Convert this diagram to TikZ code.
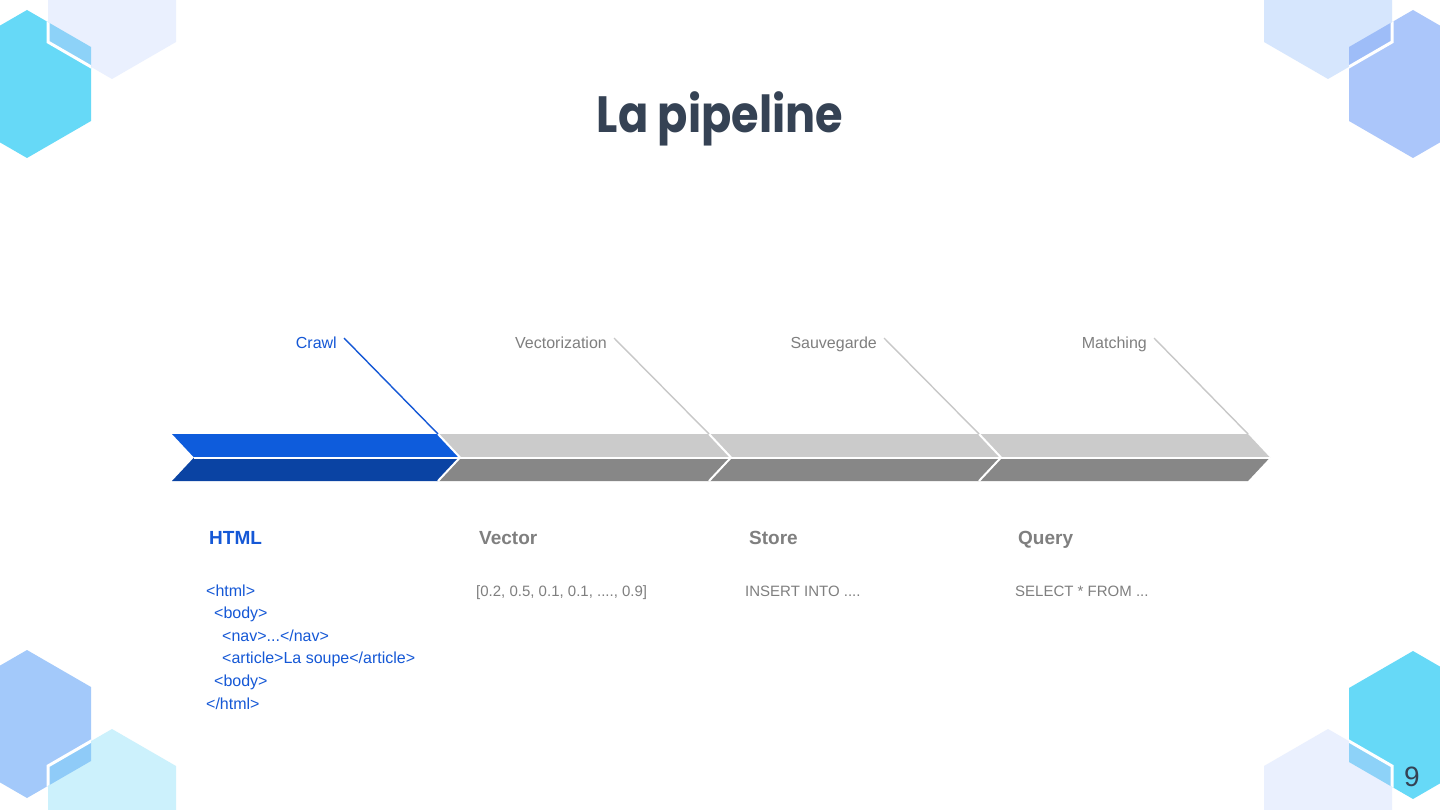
\documentclass[tikz,border=0pt]{standalone}
\usepackage{fontspec}
\setmainfont{Liberation Sans}
\newfontfamily\titlefont{Poppins}
\definecolor{hcyan}{HTML}{66D9F7}
\definecolor{hlav}{HTML}{EAF0FE}
\definecolor{ovcyan}{HTML}{8DD2F8}
\definecolor{hblue}{HTML}{ABC6FA}
\definecolor{hlight}{HTML}{D6E6FD}
\definecolor{ovblue}{HTML}{9EBDF8}
\definecolor{hblueB}{HTML}{A3C9FA}
\definecolor{hcyanL}{HTML}{CCF1FC}
\definecolor{ovblueB}{HTML}{8FCBF8}
\definecolor{titlec}{HTML}{354254}
\definecolor{blueT}{HTML}{0E5CDC}
\definecolor{blueB}{HTML}{0A43A3}
\definecolor{grayT}{HTML}{CBCBCB}
\definecolor{grayB}{HTML}{878787}
\definecolor{txtblue}{HTML}{1558D6}
\definecolor{txtgray}{HTML}{7F7F7F}
\definecolor{leadgray}{HTML}{C8C8C8}
\tikzset{
  hexat/.style 2 args={insert path={(#1,#2-74) -- (#1+64,#2-37) -- (#1+64,#2+37) -- (#1,#2+74) -- (#1-64,#2+37) -- (#1-64,#2-37) -- cycle}},
  gapline/.style={draw=white,line width=3pt},
  lbl/.style={font=\fontsize{16}{19}\selectfont,anchor=base east,inner sep=0pt},
  hdr/.style={font=\fontsize{19}{22}\selectfont\bfseries,anchor=base west,inner sep=0pt},
  code/.style={font=\fontsize{16}{19}\selectfont,anchor=base west,inner sep=0pt},
  codeg/.style={font=\fontsize{15}{18}\selectfont,anchor=base west,inner sep=0pt,text=txtgray},
  leader/.style={line width=1.4pt},
  sep/.style={draw=white,line width=2pt}
}
\begin{document}
\begin{tikzpicture}[x=1pt,y=-1pt]
\useasboundingbox (0,0) rectangle (1440,810);
\fill[white] (0,0) rectangle (1440,810);
% top-left hexagons
\fill[hcyan,hexat={27}{84}];
\fill[hlav,hexat={112}{5}];
\begin{scope}
\clip[hexat={27}{84}];
\fill[ovcyan,hexat={112}{5}];
\draw[gapline,hexat={112}{5}];
\end{scope}
% top-right hexagons
\fill[hblue,hexat={1413}{84}];
\fill[hlight,hexat={1328}{5}];
\begin{scope}
\clip[hexat={1413}{84}];
\fill[ovblue,hexat={1328}{5}];
\draw[gapline,hexat={1328}{5}];
\end{scope}
% bottom-left hexagons
\fill[hblueB,hexat={27}{724}];
\fill[hcyanL,hexat={112}{803}];
\begin{scope}
\clip[hexat={27}{724}];
\fill[ovblueB,hexat={112}{803}];
\draw[gapline,hexat={112}{803}];
\end{scope}
% bottom-right hexagons
\fill[hcyan,hexat={1413}{725}];
\fill[hlav,hexat={1328}{803}];
\begin{scope}
\clip[hexat={1413}{725}];
\fill[ovcyan,hexat={1328}{803}];
\draw[gapline,hexat={1328}{803}];
\end{scope}
% title and page number
\node[font=\titlefont\bfseries\fontsize{51}{58}\selectfont,text=titlec,anchor=base,inner sep=0pt] (title) at (720,133) {\scalebox{0.875}[1]{La pipeline}};
\node[font=\fontsize{28}{32}\selectfont,text=titlec,anchor=base,inner sep=0pt] (pagenum) at (1412,786) {9};
% chevron bar
\foreach \a/\b/\ct/\cb in {172/438/blueT/blueB,438/709/grayT/grayB,709/979/grayT/grayB,979/1248/grayT/grayB}{
  \fill[\ct] (\a,434) -- (\b,434) -- (\b+22,457.5) -- (\a+22,457.5) -- cycle;
  \fill[\cb] (\a+22,457.5) -- (\b+22,457.5) -- (\b,481) -- (\a,481) -- cycle;
}
\draw[sep] (194,457.5) -- (1270,457.5);
\foreach \b in {438,709,979}{
  \draw[sep] (\b,434) -- (\b+22,457.5) -- (\b,481);
}
% step labels and leaders
\node[lbl,text=txtblue] (crawl) at (337,348) {Crawl};
\node[lbl,text=txtgray] (vect) at (607,348) {Vectorization};
\node[lbl,text=txtgray] (sauv) at (877,348) {Sauvegarde};
\node[lbl,text=txtgray] (match) at (1147,348) {Matching};
\coordinate (l1s) at (344,338); \coordinate (l1e) at (438,434);
\coordinate (l2s) at (614,338); \coordinate (l2e) at (709,434);
\coordinate (l3s) at (884,338); \coordinate (l3e) at (979,434);
\coordinate (l4s) at (1154,338); \coordinate (l4e) at (1248,434);
\draw[leader,txtblue] (l1s) -- (l1e);
\draw[leader,leadgray] (l2s) -- (l2e);
\draw[leader,leadgray] (l3s) -- (l3e);
\draw[leader,leadgray] (l4s) -- (l4e);
% headers
\node[hdr,text=txtblue] (hhtml) at (209,544) {HTML};
\node[hdr,text=txtgray] (hvec) at (479,544) {Vector};
\node[hdr,text=txtgray] (hstore) at (749,544) {Store};
\node[hdr,text=txtgray] (hquery) at (1018,544) {Query};
% code
\node[code,text=txtblue] (c1) at (206,596) {<html>};
\node[code,text=txtblue] (c2) at (214,618.6) {<body>};
\node[code,text=txtblue] (c3) at (222,641.2) {<nav>...</nav>};
\node[code,text=txtblue] (c4) at (222,663.8) {<article>La soupe</article>};
\node[code,text=txtblue] (c5) at (214,686.4) {<body>};
\node[code,text=txtblue] (c6) at (206,709) {</html>};
\node[codeg] (v1) at (476,596) {[0.2, 0.5, 0.1, 0.1, ...., 0.9]};
\node[codeg] (s1) at (745,596) {INSERT INTO ....};
\node[codeg] (q1) at (1015,596) {SELECT * FROM ...};
\end{tikzpicture}
\end{document}
